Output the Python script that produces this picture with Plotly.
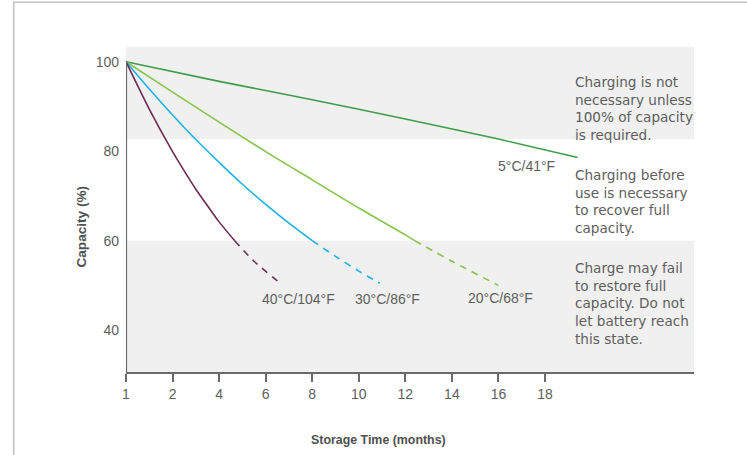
import plotly.graph_objects as go

# ---------------- data ----------------
TICK_MONTHS = [1, 2, 4, 6, 8, 10, 12, 14, 16, 18]
TICK_LABELS = ["1", "2", "4", "6", "8", "10", "12", "14", "16", "18"]
Y_TICKS = [40, 60, 80, 100]

SERIES_NAMES = ["5°C/41°F", "20°C/68°F", "30°C/86°F", "40°C/104°F"]
SERIES_COLORS = ["#3f9d4a", "#86c44c", "#1eb1e4", "#6d2d50"]

months_5c = [1, 4, 8, 12, 16, 19.4]
cap_5c = [100, 95.6, 91.5, 87.2, 82.7, 78.6]

months_20c = [1, 2, 4, 6, 8, 10, 12, 12.4, 14, 16]
cap_20c = [100, 93.2, 86.5, 79.9, 73.6, 67.3, 61.3, 60, 55.4, 50]

months_30c = [1, 1.5, 2, 3, 4, 5, 6, 7, 8, 9, 10, 10.9]
cap_30c = [100, 93.9, 88.1, 82.6, 77.5, 72.6, 68.1, 63.9, 60, 56.5, 53.2, 50.5]

months_40c = [1, 1.5, 2, 2.5, 3, 3.5, 4, 4.67, 5.5, 6.67]
cap_40c = [100, 89.4, 79.9, 75.6, 71.5, 67.8, 64.2, 60, 55.4, 50.3]

ZONE_LIMITS = [60, 82.7]   # capacity thresholds of the shaded zones
ZONE_TEXTS = [
    "Charging is not<br>necessary unless<br>100% of capacity<br>is required.",
    "Charging before<br>use is necessary<br>to recover full<br>capacity.",
    "Charge may fail<br>to restore full<br>capacity. Do not<br>let battery reach<br>this state.",
]

# ---------------- layout constants ----------------
W, H = 747, 455
ML, MR, MT, MB = 126, 53, 47, 83
X_RANGE = [0, 12.2]
Y_RANGE = [30.65, 103.28]
GREY_TXT = "#5e5e5e"
AXIS_COL = "#6a6a6a"
BAND_COL = "#f0f0f0"


def pos(m):
    """Month -> position on the (non-uniform) storage-time axis."""
    return m - 1 if m < 2 else m / 2


series = [
    (months_5c, cap_5c),
    (months_20c, cap_20c),
    (months_30c, cap_30c),
    (months_40c, cap_40c),
]
label_shifts = [(-51, -9), (2, -13), (8, -16), (17, -15)]

fig = go.Figure()

for (mo, cap), name, col in zip(series, SERIES_NAMES, SERIES_COLORS):
    xs = [pos(m) for m in mo]
    solid_x = [x for x, c in zip(xs, cap) if c >= 60]
    solid_y = [c for c in cap if c >= 60]
    dash_x = [x for x, c in zip(xs, cap) if c <= 60]
    dash_y = [c for c in cap if c <= 60]
    fig.add_trace(go.Scatter(x=solid_x, y=solid_y, mode="lines",
                             line=dict(color=col, width=1.6, shape="spline", smoothing=0.8),
                             name=name, showlegend=False, hoverinfo="skip"))
    if len(dash_x) > 1:
        fig.add_trace(go.Scatter(x=dash_x, y=dash_y, mode="lines",
                                 line=dict(color=col, width=1.6, dash="7px,6px",
                                           shape="spline", smoothing=0.8),
                                 name=name, showlegend=False, hoverinfo="skip"))

# series labels at end points
for (mo, cap), name, (dx, dy) in zip(series, SERIES_NAMES, label_shifts):
    fig.add_annotation(x=pos(mo[-1]), y=cap[-1], text=name, showarrow=False,
                       xshift=dx, yshift=dy, xanchor="center", yanchor="middle",
                       font=dict(family="Liberation Sans, Arial, sans-serif", size=14, color=GREY_TXT))

# shaded zones
fig.add_shape(type="rect", xref="paper", yref="y", x0=0, x1=1, y0=ZONE_LIMITS[1], y1=Y_RANGE[1],
              fillcolor=BAND_COL, line_width=0, layer="below")
fig.add_shape(type="rect", xref="paper", yref="y", x0=0, x1=1, y0=Y_RANGE[0], y1=ZONE_LIMITS[0],
              fillcolor=BAND_COL, line_width=0, layer="below")

# y axis line (from 100 down)
fig.add_shape(type="line", xref="x", yref="y", x0=0, x1=0, y0=Y_RANGE[0], y1=100,
              line=dict(color=AXIS_COL, width=2.2))

# zone texts
for txt, yp in zip(ZONE_TEXTS, [0.8117, 0.525, 0.2114]):
    fig.add_annotation(xref="paper", yref="paper", x=0.7865, y=yp, text=txt, showarrow=False,
                       xanchor="left", yanchor="middle", align="left",
                       font=dict(family="DejaVu Sans, sans-serif", size=13.6, color=GREY_TXT))

# axis titles
fig.add_annotation(xref="paper", yref="paper", x=0.4437, y=-0.209, text="Storage Time (months)",
                   showarrow=False, xanchor="center", yanchor="middle",
                   font=dict(family="Liberation Sans, Arial, sans-serif", size=12.4,
                             color="#505050", weight="bold"))
fig.add_annotation(xref="paper", yref="paper", x=-0.0792, y=0.4477, text="Capacity (%)",
                   showarrow=False, xanchor="center", yanchor="middle", textangle=-90,
                   font=dict(family="Liberation Sans, Arial, sans-serif", size=13.6,
                             color="#505050", weight="bold"))

# outer frame (left and top edges)
fx, fy = (13.7 - ML) / (W - ML - MR), 1 - (2.3 - MT) / (H - MT - MB)
fig.add_shape(type="path", xref="paper", yref="paper",
              path=f"M {fx} -0.3 L {fx} {fy} L 1.2 {fy}",
              line=dict(color="#c4c4c4", width=1.6))

fig.update_xaxes(range=X_RANGE, tickvals=[pos(m) for m in TICK_MONTHS], ticktext=TICK_LABELS,
                 showline=True, linecolor=AXIS_COL, linewidth=2.2, showgrid=False, zeroline=False,
                 ticks="outside", ticklen=8, tickwidth=1.5, tickcolor=AXIS_COL,
                 tickfont=dict(family="Liberation Sans, Arial, sans-serif", size=14, color=GREY_TXT),
                 fixedrange=True)
fig.update_yaxes(range=Y_RANGE, tickvals=Y_TICKS, showline=False, showgrid=False, zeroline=False,
                 ticks="", ticklabelstandoff=6,
                 tickfont=dict(family="Liberation Sans, Arial, sans-serif", size=14, color=GREY_TXT),
                 fixedrange=True)

fig.update_layout(width=W, height=H, margin=dict(l=ML, r=MR, t=MT, b=MB, pad=0),
                  plot_bgcolor="white", paper_bgcolor="white", showlegend=False)

fig.write_html("out.html", config={"displayModeBar": False},
               post_script="document.body.style.margin='0px';")
